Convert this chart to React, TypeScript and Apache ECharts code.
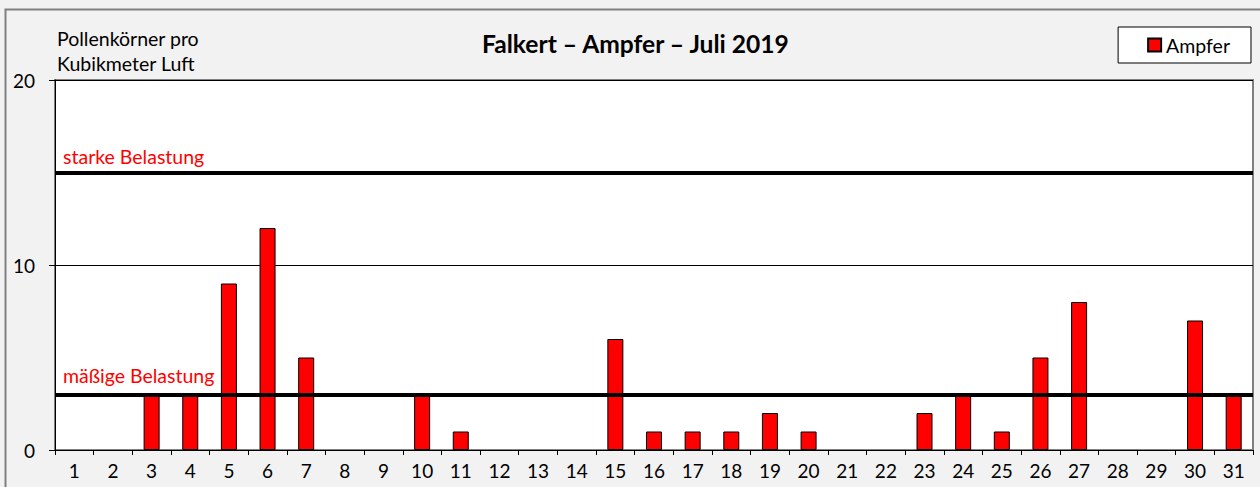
import React, { useEffect, useRef } from "react";
import * as echarts from "echarts";

const days = Array.from({ length: 31 }, (_, i) => String(i + 1));
const ampfer = [0, 0, 3, 3, 9, 12, 5, 0, 0, 3, 1, 0, 0, 0, 6, 1, 1, 1, 2, 1, 0, 0, 2, 3, 1, 5, 8, 0, 0, 7, 3];
const thresholds = [
  { value: 15, label: "starke Belastung", gap: 6 },
  { value: 3, label: "mäßige Belastung", gap: 9 },
];
const titleText = "Falkert – Ampfer – Juli 2019";
const yAxisTitle = ["Pollenkörner pro", "Kubikmeter Luft"];
const FONT = "Lato, 'Open Sans', sans-serif";

export default function App() {
  const ref = useRef<HTMLDivElement>(null);
  useEffect(() => {
    const chart = echarts.init(ref.current!, null, { renderer: "svg" });
    chart.setOption({
      animation: false,
      backgroundColor: "#f2f2f2",
      textStyle: { fontFamily: FONT },
      title: {
        text: titleText,
        left: 482,
        top: 31,
        padding: 0,
        textStyle: { fontFamily: FONT, fontSize: 24.6, fontWeight: "bold", color: "#000" },
      },
      legend: {
        data: [{ name: "Ampfer", icon: "rect" }],
        right: 9,
        top: 27,
        orient: "horizontal",
        backgroundColor: "#fff",
        borderColor: "#000",
        borderWidth: 1,
        padding: [8, 21, 8, 29],
        itemWidth: 13,
        itemHeight: 13,
        itemGap: 4,
        textStyle: { fontFamily: FONT, fontSize: 19.5, color: "#000", padding: [0, 0, 0, 0] },
      },
      graphic: [
        {
          type: "rect",
          shape: { x: 5.5, y: 9.5, width: 1270, height: 500 },
          style: { fill: "none", stroke: "#808080", lineWidth: 2 },
          silent: true,
        },
        {
          type: "text",
          left: 57,
          top: 26,
          style: {
            text: yAxisTitle.join("\n"),
            fontFamily: FONT,
            fontSize: 19.5,
            lineHeight: 25,
            fill: "#000",
          },
        },
      ],
      grid: {
        left: 55,
        right: 7,
        top: 80,
        bottom: 37,
        show: true,
        backgroundColor: "#fff",
        borderColor: "#808080",
        borderWidth: 2,
      },
      xAxis: {
        type: "category",
        data: days,
        boundaryGap: true,
        axisLine: { show: true, lineStyle: { color: "#000", width: 1 } },
        axisTick: { show: true, alignWithLabel: false, length: 5, lineStyle: { color: "#000" } },
        axisLabel: { fontFamily: FONT, fontSize: 19, color: "#000", margin: 11, interval: 0 },
      },
      yAxis: {
        type: "value",
        min: 0,
        max: 20,
        interval: 10,
        axisLine: { show: true, lineStyle: { color: "#000", width: 1 } },
        axisTick: { show: true, length: 6, lineStyle: { color: "#000" } },
        axisLabel: { fontFamily: FONT, fontSize: 19, color: "#000", margin: 20 },
        splitLine: { show: true, lineStyle: { color: "#000", width: 1 } },
      },
      series: [
        {
          name: "Ampfer",
          type: "bar",
          data: ampfer.map((v) => (v === 0 ? null : v)),
          barWidth: 16,
          itemStyle: { color: "#ff0000", borderColor: "#000", borderWidth: 1 },
          markLine: {
            silent: true,
            symbol: "none",
            lineStyle: { color: "#000", width: 4, type: "solid" },
            label: {
              show: true,
              position: "insideStartTop",
              color: "#ff0000",
              fontFamily: FONT,
              fontSize: 19.5,
              formatter: (p: any) => p.name,
            },
            data: thresholds.map((t) => ({
              yAxis: t.value,
              name: t.label,
              label: { distance: [8, t.gap] },
            })),
          },
        },
      ],
    });
    return () => chart.dispose();
  }, []);
  return (
    <div
      ref={ref}
      style={{ position: "fixed", left: 0, top: 0, width: 1260, height: 487 }}
    />
  );
}
